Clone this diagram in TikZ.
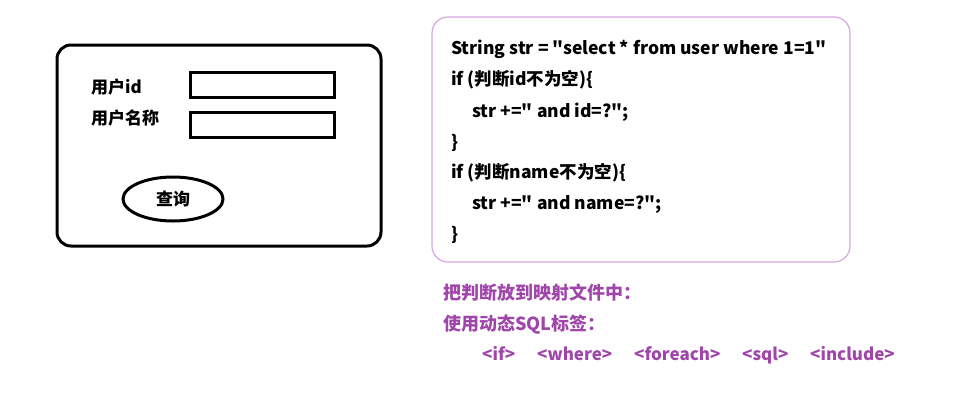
\documentclass[tikz,border=0pt]{standalone}
\usepackage{fontspec}
\setmainfont{Noto Sans CJK SC}[Ligatures=TeXOff]
\usetikzlibrary{positioning, shapes.geometric}
\definecolor{tagpurple}{RGB}{160,70,170}
\definecolor{boxlilac}{RGB}{215,165,225}
\tikzset{
  panel/.style={draw, line width=3pt, rounded corners=14pt},
  field/.style={draw, line width=3pt, minimum width=144pt, minimum height=25pt},
  lbl/.style={anchor=base west, inner sep=0pt, font=\bfseries\fontsize{17}{17}\selectfont},
  codebox/.style={draw=boxlilac, line width=1.2pt, rounded corners=16pt},
  code/.style={anchor=base west, inner sep=0pt, font=\bfseries\fontsize{17.5}{17.5}\selectfont},
  note/.style={code, text=tagpurple, font=\bfseries\fontsize{17}{17}\selectfont},
  heading/.style={note, font=\bfseries\fontsize{18}{18}\selectfont}
}
\begin{document}
\begin{tikzpicture}[x=1pt, y=-1pt]
\useasboundingbox (0,0) rectangle (957,413);
% query form
\node[panel, minimum width=324pt, minimum height=201pt] (form) at (219,145.5) {};
\node[lbl] (uid) at (91,93) {用户id};
\node[lbl] (uname) at (91,124) {用户名称};
\node[field] (idbox) at (262,85) {};
\node[field] (namebox) at (262,124.5) {};
\node[ellipse, draw, line width=3pt, minimum width=100pt, minimum height=44pt, font=\bfseries\fontsize{17}{17}\selectfont] (query) at (173,199) {查询};
% dynamic sql code
\node[codebox, minimum width=418pt, minimum height=245pt] (sqlbox) at (641,139.5) {};
\node[code] (c1) at (451,54) {String str = "select * from user where 1=1"};
\node[code] (c2) at (451,85.5) {if (判断id不为空)\{};
\node[code] (c3) at (472,117) {str +=" and id=?";};
\node[code] (c4) at (451,148) {\}};
\node[code] (c5) at (451,178.5) {if (判断name不为空)\{};
\node[code] (c6) at (472,209.5) {str +=" and name=?";};
\node[code] (c7) at (451,240.5) {\}};
% notes
\node[heading] (n1) at (443,299) {把判断放到映射文件中：};
\node[heading] (n2) at (443,330) {使用动态SQL标签：};
\node[note] (t1) at (482,360) {<if>};
\node[note] (t2) at (537,360) {<where>};
\node[note] (t3) at (634,360) {<foreach>};
\node[note] (t4) at (742,360) {<sql>};
\node[note] (t5) at (810,360) {<include>};
\end{tikzpicture}
\end{document}
